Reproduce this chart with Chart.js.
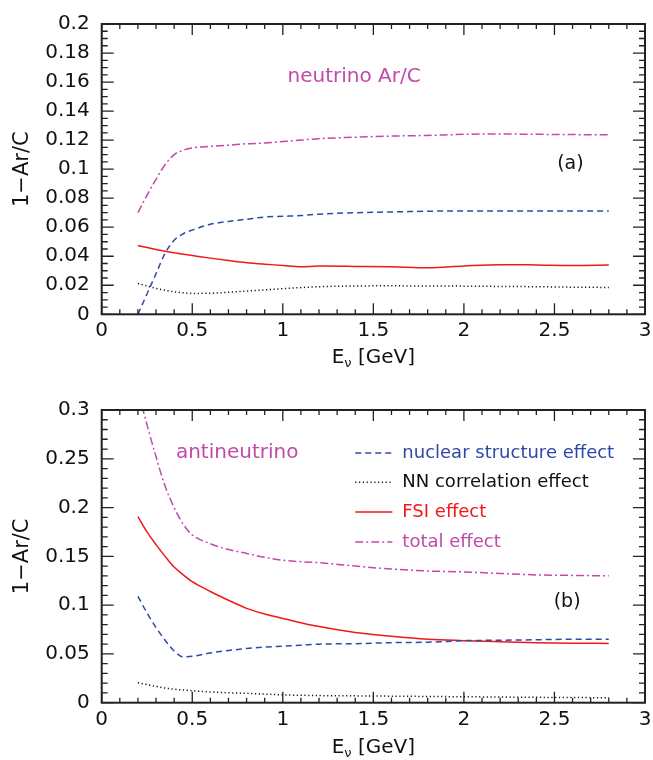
<!DOCTYPE html>
<html lang="en">
<head>
<meta charset="UTF-8">
<title>1-Ar/C</title>
<script src="https://cdn.jsdelivr.net/npm/chart.js"></script>
<style>
    body { margin: 0; background: #fff; }
    .panel { position: absolute; left: 0; width: 653px; height: 380px; }
</style>
</head>
<body>
<div class="panel" style="top:0"><canvas id="chartA" width="653" height="380"></canvas></div>
<div class="panel" style="top:380px"><canvas id="chartB" width="653" height="380"></canvas></div>
<script>
// neutrino energy grid, GeV
const energies = [0.2, 0.25, 0.3, 0.35, 0.4, 0.45, 0.5, 0.6, 0.7, 0.8, 0.9, 1.0, 1.1, 1.2, 1.4, 1.6, 1.8, 2.0, 2.2, 2.4, 2.6, 2.8];

// (a) neutrino
const nuNuclear = [0.0, 0.014, 0.028, 0.042, 0.051, 0.0555, 0.058, 0.062, 0.064, 0.0655, 0.067, 0.0675, 0.068, 0.069, 0.070, 0.0705, 0.071, 0.0712, 0.0712, 0.0712, 0.0712, 0.0712];
const nuNN      = [0.0212, 0.0195, 0.0178, 0.0165, 0.0155, 0.0148, 0.0144, 0.0145, 0.0152, 0.016, 0.0168, 0.0176, 0.0184, 0.019, 0.0195, 0.0196, 0.0195, 0.0194, 0.0192, 0.019, 0.0187, 0.0185];
const nuFSI     = [0.0474, 0.046, 0.0447, 0.0435, 0.0424, 0.0414, 0.0405, 0.0387, 0.037, 0.0355, 0.0345, 0.0337, 0.0328, 0.0332, 0.033, 0.0327, 0.032, 0.0333, 0.0342, 0.034, 0.0337, 0.034];
const nuTotal   = [0.070, 0.082, 0.093, 0.103, 0.110, 0.113, 0.1146, 0.1157, 0.1165, 0.1175, 0.118, 0.119, 0.120, 0.121, 0.122, 0.1228, 0.1232, 0.124, 0.1242, 0.124, 0.1238, 0.1237];

// (b) antineutrino
const anuNuclear = [0.109, 0.092, 0.077, 0.064, 0.053, 0.047, 0.0475, 0.051, 0.0535, 0.0555, 0.057, 0.058, 0.059, 0.060, 0.0605, 0.0615, 0.062, 0.0636, 0.064, 0.0645, 0.065, 0.065];
const anuNN      = [0.0205, 0.0185, 0.0166, 0.015, 0.0138, 0.013, 0.0123, 0.011, 0.0102, 0.0096, 0.0088, 0.008, 0.0076, 0.0073, 0.007, 0.0067, 0.0064, 0.0061, 0.0058, 0.0055, 0.0053, 0.0051];
const anuFSI     = [0.1907, 0.175, 0.162, 0.150, 0.139, 0.131, 0.124, 0.114, 0.105, 0.0967, 0.091, 0.0864, 0.082, 0.078, 0.072, 0.068, 0.065, 0.0636, 0.0625, 0.0615, 0.061, 0.0608];
const anuTotal   = [0.32, 0.285, 0.252, 0.222, 0.200, 0.183, 0.172, 0.163, 0.157, 0.153, 0.149, 0.146, 0.1445, 0.1435, 0.140, 0.137, 0.135, 0.134, 0.1325, 0.131, 0.1305, 0.130];

const legendLabels = ['nuclear structure effect', 'NN correlation effect', 'FSI effect', 'total effect'];

const BLUE = '#2d49a8', BLACK = '#111111', RED = '#f01818', MAGENTA = '#c04aa8';
const FONT = 'DejaVu Sans';

function pts(ys) {
    return energies.map((e, i) => ({ x: e, y: ys[i] }));
}

function makeSets(nuc, nn, fsi, tot) {
    return [
        { label: legendLabels[0], data: pts(nuc), borderColor: BLUE, borderDash: [6, 4] },
        { label: legendLabels[1], data: pts(nn), borderColor: BLACK, borderDash: [1.2, 2.6] },
        { label: legendLabels[2], data: pts(fsi), borderColor: RED, borderDash: [] },
        { label: legendLabels[3], data: pts(tot), borderColor: MAGENTA, borderDash: [8, 3, 2, 3] }
    ].map(d => Object.assign(d, { borderWidth: 1.5, pointRadius: 0, fill: false, cubicInterpolationMode: 'monotone' }));
}

// frame with inward major/minor ticks on all four sides, plus text
const framePlugin = {
    id: 'frame',
    afterDraw(chart) {
        const o = chart.options.plugins.frame;
        const ctx = chart.ctx, a = chart.chartArea;
        const xs = chart.scales.x, ys = chart.scales.y;
        ctx.save();
        ctx.strokeStyle = '#222';
        ctx.lineWidth = 1.3;
        const nx = Math.round((xs.max - xs.min) / o.xMinor);
        for (let i = 0; i <= nx; i++) {
            const v = xs.min + i * o.xMinor;
            const p = xs.getPixelForValue(v);
            const len = (i % o.xEvery === 0) ? 11 : 5;
            ctx.beginPath();
            ctx.moveTo(p, a.bottom); ctx.lineTo(p, a.bottom - len);
            ctx.moveTo(p, a.top); ctx.lineTo(p, a.top + len);
            ctx.stroke();
        }
        const ny = Math.round((ys.max - ys.min) / o.yMinor);
        for (let i = 0; i <= ny; i++) {
            const v = ys.min + i * o.yMinor;
            const p = ys.getPixelForValue(v);
            const len = (i % o.yEvery === 0) ? 12 : 6;
            ctx.beginPath();
            ctx.moveTo(a.left, p); ctx.lineTo(a.left + len, p);
            ctx.moveTo(a.right, p); ctx.lineTo(a.right - len, p);
            ctx.stroke();
        }
        ctx.lineWidth = 2;
        ctx.strokeRect(a.left, a.top, a.right - a.left, a.bottom - a.top);

        // axis titles
        ctx.fillStyle = '#111';
        ctx.textBaseline = 'middle';
        const big = '20px "' + FONT + '"', small = '13px "' + FONT + '"';
        ctx.font = big;
        const cx = xs.getPixelForValue(1.5), ty = a.bottom + o.titleOffset;
        const w1 = ctx.measureText('E').width;
        ctx.font = small;
        const w2 = ctx.measureText('\u03BD').width;
        ctx.font = big;
        const w3 = ctx.measureText(' [GeV]').width;
        let sx = cx - (w1 + w2 + w3) / 2;
        ctx.textAlign = 'left';
        ctx.fillText('E', sx, ty);
        ctx.font = small;
        ctx.fillText('\u03BD', sx + w1, ty + 6);
        ctx.font = big;
        ctx.fillText(' [GeV]', sx + w1 + w2, ty);

        ctx.save();
        ctx.translate(23, (a.top + a.bottom) / 2);
        ctx.rotate(-Math.PI / 2);
        ctx.textAlign = 'center';
        ctx.font = '21px "' + FONT + '"';
        ctx.fillText('1\u2212Ar/C', 0, 0);
        ctx.restore();

        // annotations placed in data coordinates
        ctx.textAlign = 'center';
        o.notes.forEach(n => {
            ctx.font = n.size + 'px "' + FONT + '"';
            ctx.fillStyle = n.color;
            ctx.fillText(n.text, xs.getPixelForValue(n.x), ys.getPixelForValue(n.y));
        });

        // in-plot legend
        if (o.legend) {
            const L = o.legend;
            ctx.font = '18px "' + FONT + '"';
            ctx.textAlign = 'left';
            chart.data.datasets.forEach((d, i) => {
                const py = ys.getPixelForValue(L.rows[i]);
                ctx.strokeStyle = d.borderColor;
                ctx.lineWidth = 1.5;
                ctx.setLineDash(d.borderDash);
                ctx.beginPath();
                ctx.moveTo(xs.getPixelForValue(L.x0), py);
                ctx.lineTo(xs.getPixelForValue(L.x1), py);
                ctx.stroke();
                ctx.setLineDash([]);
                ctx.fillStyle = d.borderColor;
                ctx.fillText(d.label, xs.getPixelForValue(L.tx), py);
            });
        }
        ctx.restore();
    }
};

const tickText = v => String(+v.toFixed(3));

function makeChart(id, sets, yMax, yStep, yMinor, yEvery, axisHeight, padTop, frameOpts) {
    return new Chart(document.getElementById(id), {
        type: 'line',
        data: { datasets: sets },
        plugins: [framePlugin],
        options: {
            responsive: false,
            animation: false,
            layout: { padding: { left: 0, right: 8, top: padTop, bottom: 0 } },
            plugins: {
                legend: { display: false },
                tooltip: { enabled: false },
                frame: Object.assign({ xMinor: 0.1, xEvery: 5, yMinor: yMinor, yEvery: yEvery }, frameOpts)
            },
            scales: {
                x: {
                    type: 'linear', min: 0, max: 3,
                    grid: { display: false, drawTicks: false },
                    border: { display: false },
                    ticks: { stepSize: 0.5, padding: frameOpts.tickPad, color: '#111', font: { family: FONT, size: 20 }, maxRotation: 0, callback: tickText },
                    afterFit(s) { s.height = axisHeight; s.paddingRight = 0; }
                },
                y: {
                    type: 'linear', min: 0, max: yMax,
                    grid: { display: false, drawTicks: false },
                    border: { display: false },
                    ticks: { stepSize: yStep, padding: 12, color: '#111', font: { family: FONT, size: 20 }, callback: tickText },
                    afterFit(s) { s.width = 101.7; }
                }
            }
        }
    });
}

makeChart('chartA', makeSets(nuNuclear, nuNN, nuFSI, nuTotal), 0.2, 0.02, 0.005, 4, 65.7, 21.7, {
    titleOffset: 43, tickPad: 4,
    notes: [
        { text: 'neutrino Ar/C', x: 1.394, y: 0.1636, size: 20, color: MAGENTA },
        { text: '(a)', x: 2.588, y: 0.1034, size: 19, color: '#111' }
    ]
});

makeChart('chartB', makeSets(anuNuclear, anuNN, anuFSI, anuTotal), 0.3, 0.05, 0.01, 5, 57.3, 30, {
    titleOffset: 45, tickPad: 5,
    notes: [
        { text: 'antineutrino', x: 0.748, y: 0.256, size: 20, color: MAGENTA },
        { text: '(b)', x: 2.57, y: 0.1032, size: 19, color: '#111' }
    ],
    legend: { x0: 1.40, x1: 1.605, tx: 1.66, rows: [0.256, 0.226, 0.1955, 0.1648] }
});
</script>
</body>
</html>
